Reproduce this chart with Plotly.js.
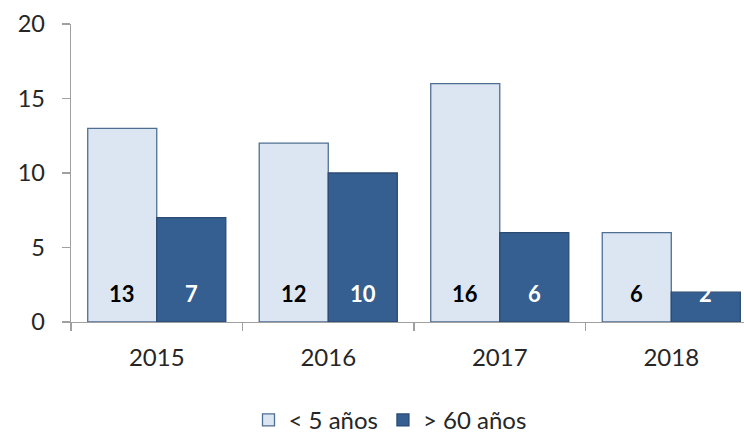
<!DOCTYPE html>
<html>
<head>
<meta charset="utf-8">
<script src="https://cdn.plot.ly/plotly-3.0.1.min.js"></script>
<style>html,body{margin:0;padding:0;background:#fff;}#chart{width:744px;height:434px;}</style>
</head>
<body>
<div id="chart"></div>
<script>
const years = ["2015", "2016", "2017", "2018"];
const seriesNames = ["< 5 años", "> 60 años"];
const under5 = [13, 12, 16, 6];
const over60 = [7, 10, 6, 2];
const yTicks = [0, 5, 10, 15, 20];

const FONT = "Lato, 'Open Sans', sans-serif";

const traces = [
  {type: "bar", name: seriesNames[0], x: years, y: under5,
   marker: {color: "#dce6f2", line: {color: "#4f6e93", width: 1.3}}, hoverinfo: "none"},
  {type: "bar", name: seriesNames[1], x: years, y: over60,
   marker: {color: "#365f91", line: {color: "#2b4b72", width: 1.3}}, hoverinfo: "none"}
];

const annotations = [];
years.forEach((yr, i) => {
  annotations.push({x: i, y: 0, xref: "x", yref: "y", text: "<b>" + under5[i] + "</b>", showarrow: false,
    xshift: -34.5, yshift: 29, font: {family: FONT, size: 22, color: "#000000"}});
  annotations.push({x: i, y: 0, xref: "x", yref: "y", text: "<b>" + over60[i] + "</b>", showarrow: false,
    xshift: 34.5, yshift: 29, font: {family: FONT, size: 22, color: "#ffffff"}});
});

const layout = {
  width: 744, height: 434,
  margin: {l: 71, r: 0, t: 24, b: 112, autoexpand: false},
  paper_bgcolor: "#fff", plot_bgcolor: "#fff",
  barmode: "group", bargap: 0.195, bargroupgap: 0,
  font: {family: FONT, color: "#262626"},
  showlegend: true,
  legend: {orientation: "h", x: 0.474, xanchor: "center", y: -0.33, yanchor: "middle",
    font: {family: FONT, size: 24, color: "#262626"}, itemwidth: 30, traceorder: "normal"},
  xaxis: {type: "category", range: [-0.5, 3.424], showgrid: false, zeroline: false,
    showline: true, linecolor: "#a0a0a0", linewidth: 1.3,
    ticks: "outside", tickson: "boundaries", ticklen: 8, tickcolor: "#a0a0a0", tickwidth: 1.3,
    ticklabelstandoff: 14, tickfont: {family: FONT, size: 24, color: "#262626"}},
  yaxis: {range: [0, 20], tickvals: yTicks, showgrid: false, zeroline: false,
    showline: true, linecolor: "#a0a0a0", linewidth: 1.3,
    ticks: "outside", ticklen: 8, tickcolor: "#a0a0a0", tickwidth: 1.3,
    ticklabelstandoff: 12, tickfont: {family: FONT, size: 23.5, color: "#262626"}},
  annotations: annotations
};

Plotly.newPlot("chart", traces, layout, {displayModeBar: false, staticPlot: true});
</script>
</body>
</html>
